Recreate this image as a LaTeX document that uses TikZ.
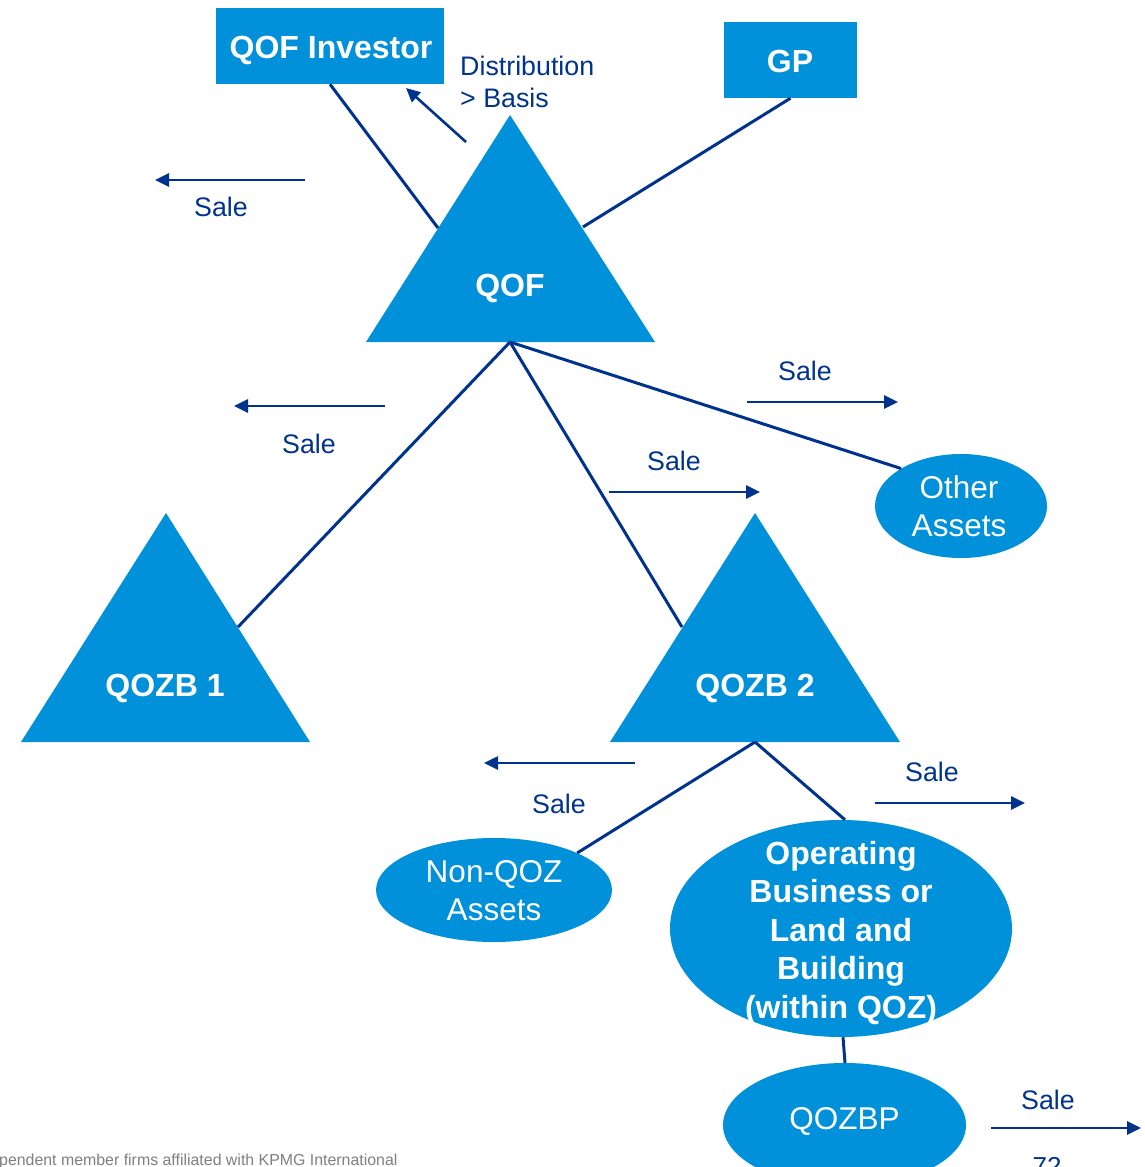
\documentclass[tikz,border=0pt]{standalone}
\usepackage{fontspec}
\setmainfont{Liberation Sans}
\usetikzlibrary{shapes.geometric,arrows.meta}
\definecolor{kblue}{HTML}{0091DA}
\definecolor{kdark}{HTML}{00338D}
\definecolor{kgray}{HTML}{808080}
\tikzset{
  boxnode/.style={fill=kblue,inner sep=0pt},
  blob/.style={ellipse,fill=kblue,inner sep=0pt},
  whitebold/.style={text=white,inner sep=0pt,align=center,font=\fontsize{32}{38.5}\selectfont\bfseries},
  whiteplain/.style={text=white,inner sep=0pt,align=center,font=\fontsize{31.5}{38}\selectfont},
  link/.style={draw=kdark,line width=3pt},
  flow/.style={draw=kdark,line width=2.6pt,-{Triangle[length=14pt,width=13pt]}},
  salelbl/.style={text=kdark,font=\fontsize{26.8}{31.5}\selectfont}
}
\begin{document}
\begin{tikzpicture}[x=1pt,y=-1pt]
\useasboundingbox (0,0) rectangle (1145,1167);
\clip (0,0) rectangle (1145,1167);
\fill[white] (0,0) rectangle (1145,1167);

% investor and general partner boxes
\node[boxnode,minimum width=228pt,minimum height=76pt] (inv) at (330,46) {};
\node[whitebold] (invtxt) at (331,50) {QOF Investor};
\node[boxnode,minimum width=133pt,minimum height=76pt] (gp) at (790.5,60) {};
\node[whitebold] (gptxt) at (790,61) {GP};

% fund and business triangles
\fill[kblue] (510,115) -- (655,342) -- (366,342) -- cycle;
\node[whitebold] (qof) at (510,288) {QOF};
\coordinate (qofL) at (438,228);
\coordinate (qofR) at (583,227);
\coordinate (qofB) at (510,342);

\fill[kblue] (166,513) -- (310,742) -- (21,742) -- cycle;
\node[whitebold] (z1) at (165,688) {QOZB 1};
\coordinate (z1R) at (238,627);

\fill[kblue] (755,513) -- (900,742) -- (610,742) -- cycle;
\node[whitebold] (z2) at (755,688) {QOZB 2};
\coordinate (z2L) at (682,627);
\coordinate (z2B) at (755,742);

% asset ellipses
\node[blob,minimum width=172pt,minimum height=104pt] (oa) at (961,506) {};
\node[whiteplain] (oatxt) at (959,506) {Other\\Assets};
\node[blob,minimum width=236pt,minimum height=104pt] (nq) at (494,890) {};
\node[whiteplain] (nqtxt) at (494,891) {Non-QOZ\\Assets};
\node[blob,minimum width=342pt,minimum height=217pt] (op) at (841,928.5) {};
\node[whitebold] (optxt) at (841,933) {Operating\\Business or\\Land and\\Building\\(within QOZ)};
\node[blob,minimum width=243pt,minimum height=124pt] (bp) at (844.5,1125) {};
\node[whiteplain] (bptxt) at (844.5,1121) {QOZBP};

% ownership links
\draw[link] (inv.south) -- (qofL);
\draw[link] (gp.south) -- (qofR);
\draw[link] (qofB) -- (z1R);
\draw[link] (qofB) -- (z2L);
\draw[link] (qofB) -- (oa.148);
\draw[link] (z2B) -- (nq.24);
\draw[link] (z2B) -- ([xshift=4pt]op.north);
\draw[link] ([xshift=2pt]op.south) -- ([xshift=0.5pt]bp.north);

% distribution flow
\coordinate (dA) at (466,142);
\coordinate (dB) at (406,88);
\draw[flow] (dA) -- (dB);
\node[salelbl,anchor=north west,align=left,inner sep=0pt] (dist) at (460,56) {Distribution\\> Basis};

% sale flows
\coordinate (s1a) at (305,180); \coordinate (s1b) at (155,180);
\draw[flow] (s1a) -- (s1b);
\node[salelbl] (l1) at (221,207) {Sale};

\coordinate (s2a) at (385,406); \coordinate (s2b) at (234,406);
\draw[flow] (s2a) -- (s2b);
\node[salelbl] (l2) at (309,444) {Sale};

\coordinate (s3a) at (747,402); \coordinate (s3b) at (898,402);
\draw[flow] (s3a) -- (s3b);
\node[salelbl] (l3) at (805,371) {Sale};

\coordinate (s4a) at (609,492); \coordinate (s4b) at (760,492);
\draw[flow] (s4a) -- (s4b);
\node[salelbl] (l4) at (674,461) {Sale};

\coordinate (s5a) at (635,763); \coordinate (s5b) at (484,763);
\draw[flow] (s5a) -- (s5b);
\node[salelbl] (l5) at (559,804) {Sale};

\coordinate (s6a) at (875,803); \coordinate (s6b) at (1025,803);
\draw[flow] (s6a) -- (s6b);
\node[salelbl] (l6) at (932,772) {Sale};

\coordinate (s7a) at (991,1128); \coordinate (s7b) at (1141,1128);
\draw[flow] (s7a) -- (s7b);
\node[salelbl] (l7) at (1048,1100) {Sale};

% page footer
\node[anchor=base west,inner sep=0pt,text=kgray,font=\fontsize{15.9}{18}\selectfont] (foot) at (-1,1165) {pendent member firms affiliated with KPMG International};
\node[anchor=base,inner sep=0pt,text=kdark,font=\fontsize{26}{31}\selectfont] (pg) at (1047,1175) {72};
\end{tikzpicture}
\end{document}
